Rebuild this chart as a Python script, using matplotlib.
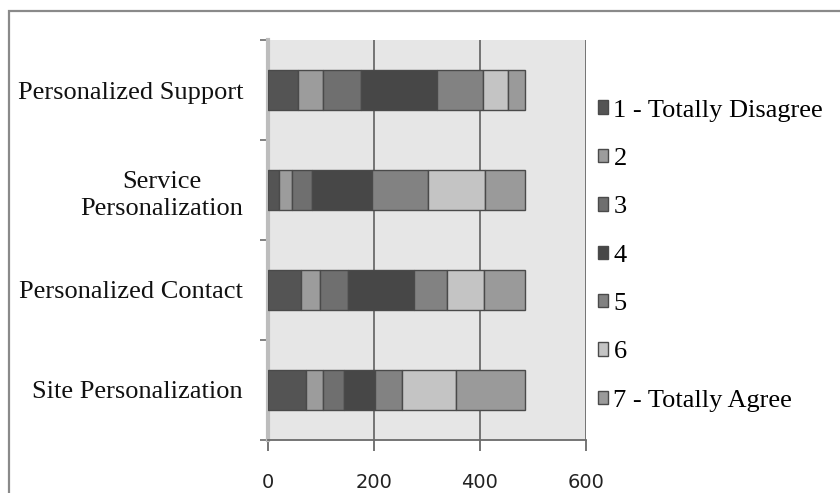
import matplotlib.pyplot as plt
from matplotlib.patches import Patch, Rectangle
from matplotlib.transforms import ScaledTranslation

# categories, bottom to top
categories = ["Site Personalization", "Personalized Contact",
              "Service\nPersonalization", "Personalized Support"]
levels = ["1 - Totally Disagree", "2", "3", "4", "5", "6", "7 - Totally Agree"]

# responses per level (rows = level 1..7, columns follow categories)
level_1 = [72, 62, 21, 56]
level_2 = [32, 37, 24, 48]
level_3 = [39, 51, 38, 71]
level_4 = [58, 125, 114, 143]
level_5 = [52, 63, 105, 87]
level_6 = [101, 70, 108, 47]
level_7 = [130, 77, 74, 32]
series = [level_1, level_2, level_3, level_4, level_5, level_6, level_7]

colors = ["#545454", "#9c9c9c", "#6f6f6f", "#474747", "#828282", "#c4c4c4", "#9a9a9a"]
x_ticks = [0, 200, 400, 600]

fig = plt.figure(figsize=(8.4, 4.93), dpi=100)
ax = fig.add_axes([268 / 840, 53 / 493, 318 / 840, 400 / 493])
ax.set_facecolor("#e6e6e6")

ypos = list(range(len(categories)))
left = [0] * len(categories)
for vals, col, lab in zip(series, colors, levels):
    ax.barh(ypos, vals, left=left, height=0.4, color=col,
            edgecolor="#4a4a4a", linewidth=1, label=lab, zorder=3)
    left = [a + b for a, b in zip(left, vals)]

ax.set_xlim(0, 600)
ax.set_ylim(-0.5, 3.5)
ax.set_xticks(x_ticks)
ax.set_xticklabels([str(t) for t in x_ticks], fontsize=14,
                   family="DejaVu Sans", color="#222222")
ax.xaxis.grid(True, color="#6a6a6a", linewidth=1.3, zorder=1)
ax.tick_params(axis="x", length=8, width=1.3, color="#6a6a6a", pad=16)

ax.set_yticks(ypos)
ax.set_yticklabels(categories, fontsize=19, family="Liberation Serif",
                   ha="right", multialignment="center", color="#111111",
                   linespacing=1.35)
# labels sit a little below the bar centres in the original
shift = ScaledTranslation(0, -4 / 100, fig.dpi_scale_trans)
for lbl in ax.get_yticklabels():
    lbl.set_transform(lbl.get_transform() + shift)
ax.set_yticks([-0.5, 0.5, 1.5, 2.5, 3.5], minor=True)
ax.tick_params(axis="y", which="major", length=0, pad=18)
ax.tick_params(axis="y", which="minor", length=6, width=1.3, color="#777777")

for s in ["top", "right"]:
    ax.spines[s].set_visible(False)
ax.spines["left"].set_color("#bdbdbd")
ax.spines["left"].set_linewidth(3)
ax.spines["bottom"].set_color("#6a6a6a")
ax.spines["bottom"].set_linewidth(1.3)

handles = [Patch(facecolor=c, edgecolor="#4a4a4a", linewidth=1) for c in colors]
fig.legend(handles, levels, loc="upper left", bbox_to_anchor=(587 / 840, 1 - 89 / 493),
           frameon=False, prop={"family": "Liberation Serif", "size": 19},
           handlelength=0.4, handleheight=0.4, handletextpad=0.2,
           labelspacing=1.0, borderaxespad=0)

# outer frame of the original figure
fig.patches.append(Rectangle((9 / 840, -0.1), 1.2, 1 - 11 / 493 + 0.1,
                             transform=fig.transFigure, fill=False,
                             edgecolor="#8a8a8a", linewidth=1.6))

fig.savefig("out.png", dpi=100)
